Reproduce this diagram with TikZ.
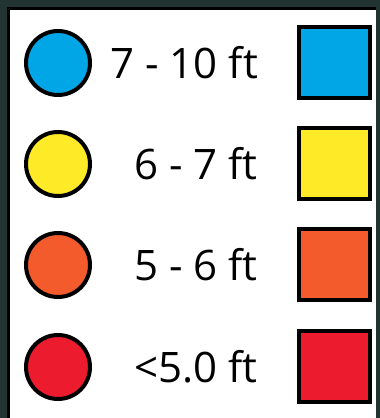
\documentclass[tikz,border=0pt]{standalone}
\usepackage{fontspec}
\setmainfont{Open Sans}
\definecolor{mapbg}{RGB}{34,52,50}
\definecolor{depthA}{RGB}{0,166,230}
\definecolor{depthB}{RGB}{255,234,40}
\definecolor{depthC}{RGB}{243,90,44}
\definecolor{depthD}{RGB}{237,27,46}

\begin{document}
\begin{tikzpicture}[x=1pt,y=1pt,
  legcircle/.style={circle,draw=black,line width=4pt,minimum size=64pt,inner sep=0pt},
  legsquare/.style={rectangle,draw=black,line width=4pt,minimum size=71pt,inner sep=0pt},
  leglabel/.style={anchor=base east,inner sep=0pt,font=\fontsize{42}{50}\selectfont}]
% map behind the legend
\fill[mapbg] (0,0) rectangle (380,418);
\useasboundingbox (0,0) rectangle (380,418);
% legend box
\fill[white] (10,0) rectangle (376,408);
\draw[line width=3pt] (8.5,0) -- (8.5,409.5) -- (376,409.5);
% rows  (y measured from the top)
\foreach \n/\y/\c/\t in {a/63/depthA/7 - 10 ft, b/164/depthB/6 - 7 ft,
                         c/265/depthC/5 - 6 ft, d/367/depthD/<5.0 ft}{
  \node[legcircle,fill=\c] (circ\n) at (58,418-\y) {};
  \node[leglabel] (lab\n) at (258,418-\y-15.5) {\t};
  \node[legsquare,fill=\c] (sq\n) at (334.5,418-\y) {};}
\end{tikzpicture}
\end{document}
